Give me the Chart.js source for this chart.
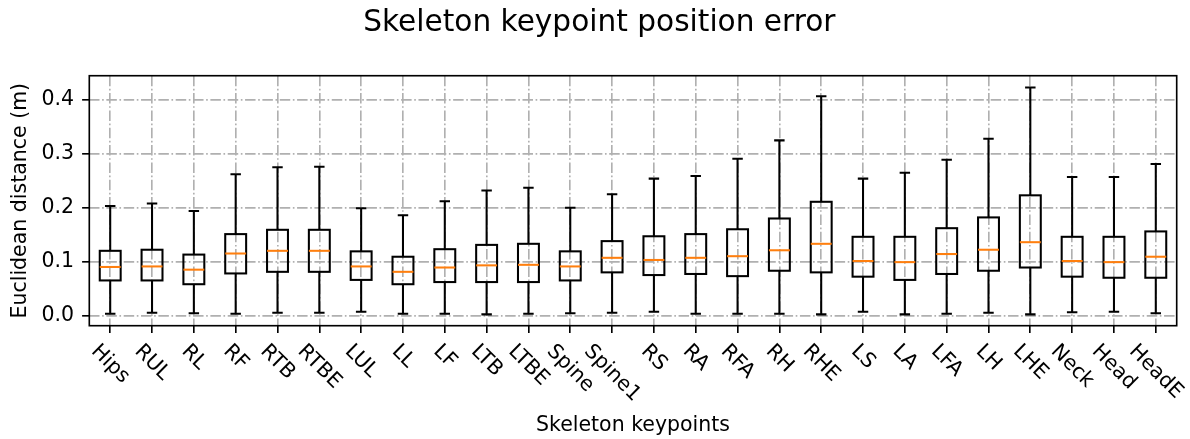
<!DOCTYPE html>
<html>
<head>
<meta charset="utf-8">
<title>Skeleton keypoint position error</title>
<script src="https://cdn.jsdelivr.net/npm/chart.js@4/dist/chart.umd.min.js"></script>
<style>
  html, body { margin: 0; padding: 0; background: #fff; }
  canvas { display: block; }
</style>
</head>
<body>
<canvas id="chart" width="1190" height="439"></canvas>
<script>
// Box-plot statistics per skeleton keypoint (metres)
const keypoints = ['Hips', 'RUL', 'RL', 'RF', 'RTB', 'RTBE', 'LUL', 'LL', 'LF', 'LTB', 'LTBE', 'Spine', 'Spine1',
  'RS', 'RA', 'RFA', 'RH', 'RHE', 'LS', 'LA', 'LFA', 'LH', 'LHE', 'Neck', 'Head', 'HeadE'];
const whiskerLow = [0.003, 0.005, 0.004, 0.003, 0.005, 0.005, 0.007, 0.003, 0.003, 0.002, 0.003, 0.004, 0.005,
  0.007, 0.003, 0.003, 0.003, 0.002, 0.007, 0.002, 0.003, 0.005, 0.002, 0.006, 0.007, 0.004];
const q1 = [0.065, 0.065, 0.058, 0.078, 0.081, 0.081, 0.066, 0.058, 0.062, 0.062, 0.062, 0.065, 0.080,
  0.075, 0.077, 0.073, 0.083, 0.080, 0.072, 0.066, 0.077, 0.083, 0.089, 0.072, 0.070, 0.070];
const median = [0.090, 0.091, 0.085, 0.115, 0.120, 0.120, 0.091, 0.081, 0.089, 0.093, 0.094, 0.091, 0.107,
  0.103, 0.107, 0.110, 0.121, 0.133, 0.101, 0.099, 0.114, 0.122, 0.136, 0.101, 0.099, 0.109];
const q3 = [0.120, 0.122, 0.113, 0.151, 0.159, 0.159, 0.119, 0.109, 0.123, 0.131, 0.133, 0.119, 0.138,
  0.147, 0.151, 0.160, 0.180, 0.211, 0.146, 0.146, 0.162, 0.182, 0.223, 0.146, 0.146, 0.156];
const whiskerHigh = [0.203, 0.208, 0.194, 0.262, 0.275, 0.276, 0.199, 0.186, 0.212, 0.232, 0.237, 0.200, 0.225,
  0.254, 0.259, 0.291, 0.325, 0.407, 0.254, 0.265, 0.289, 0.328, 0.423, 0.257, 0.257, 0.281];
const yTicks = [0.0, 0.1, 0.2, 0.3, 0.4];

const FONT = "'DejaVu Sans', 'Liberation Sans', sans-serif";
const LABEL_SIZE = 20.5;
const LINE_W = 2.05;
const MEDIAN_COLOR = '#ff7f0e';

Chart.defaults.font.family = FONT;
Chart.defaults.color = '#000';

// Box outlines, whiskers, caps and medians, stroked centred on the values
const boxWhiskers = {
  id: 'boxWhiskers',
  afterDatasetsDraw(chart) {
    const ctx = chart.ctx;
    const xs = chart.scales.x, ys = chart.scales.y;
    const meta = chart.getDatasetMeta(0);
    ctx.save();
    ctx.lineWidth = LINE_W;
    ctx.lineCap = 'butt';
    ctx.lineJoin = 'miter';
    keypoints.forEach((_, i) => {
      const bar = meta.data[i];
      const x = xs.getPixelForValue(i);
      const half = bar.width / 2;
      const capHalf = half / 2;
      const yLo = ys.getPixelForValue(whiskerLow[i]);
      const yQ1 = ys.getPixelForValue(q1[i]);
      const yQ3 = ys.getPixelForValue(q3[i]);
      const yHi = ys.getPixelForValue(whiskerHigh[i]);
      const yMed = ys.getPixelForValue(median[i]);
      ctx.strokeStyle = '#000';
      ctx.strokeRect(x - half, yQ3, 2 * half, yQ1 - yQ3);
      ctx.beginPath();
      ctx.moveTo(x, yQ1); ctx.lineTo(x, yLo);
      ctx.moveTo(x, yQ3); ctx.lineTo(x, yHi);
      ctx.moveTo(x - capHalf, yLo); ctx.lineTo(x + capHalf, yLo);
      ctx.moveTo(x - capHalf, yHi); ctx.lineTo(x + capHalf, yHi);
      ctx.stroke();
      ctx.strokeStyle = MEDIAN_COLOR;
      ctx.beginPath();
      ctx.moveTo(x - half, yMed); ctx.lineTo(x + half, yMed);
      ctx.stroke();
    });
    ctx.restore();
  },
  afterDraw(chart) {
    const ctx = chart.ctx;
    const a = chart.chartArea;
    const xs = chart.scales.x;
    ctx.save();
    // axes frame
    ctx.strokeStyle = '#000';
    ctx.lineWidth = 1.64;
    ctx.strokeRect(a.left, a.top, a.right - a.left, a.bottom - a.top);
    // x tick labels rotated 45 degrees clockwise, bounding box centred on the tick
    ctx.font = LABEL_SIZE + 'px ' + FONT;
    ctx.fillStyle = '#000';
    ctx.textAlign = 'left';
    ctx.textBaseline = 'alphabetic';
    const asc = 0.76 * LABEL_SIZE, desc = 0.24 * LABEL_SIZE;
    const top = a.bottom + 15.4;
    keypoints.forEach((label, i) => {
      const w = ctx.measureText(label).width;
      const boxH = Math.SQRT1_2 * (w + asc + desc);
      const cx = xs.getPixelForValue(i);
      const cy = top + boxH / 2;
      ctx.save();
      ctx.translate(cx, cy);
      ctx.rotate(Math.PI / 4);
      ctx.fillText(label, -w / 2, (asc - desc) / 2);
      ctx.restore();
    });
    ctx.restore();
  }
};

const gridDash = [10.5, 2.6, 1.64, 2.6];

new Chart(document.getElementById('chart'), {
  type: 'bar',
  data: {
    labels: keypoints,
    datasets: [{
      label: 'IQR',
      data: keypoints.map((_, i) => [q1[i], q3[i]]),
      backgroundColor: 'rgba(0,0,0,0)',
      borderColor: '#000',
      borderWidth: 0,
      borderSkipped: false,
      barPercentage: 0.5,
      categoryPercentage: 1.0
    }]
  },
  options: {
    responsive: false,
    devicePixelRatio: 1,
    animation: false,
    events: [],
    layout: { padding: { left: 22, right: 13.3, top: 0, bottom: 0 } },
    plugins: {
      legend: { display: false },
      tooltip: { enabled: false },
      title: {
        display: true,
        text: 'Skeleton keypoint position error',
        color: '#000',
        font: { family: FONT, size: 29.6, weight: 'normal', lineHeight: 1.2 },
        padding: { top: 5.6, bottom: 34.6 }
      }
    },
    scales: {
      x: {
        type: 'category',
        offset: true,
        grid: {
          offset: false,
          color: '#b0b0b0',
          lineWidth: 1.64,
          borderDash: gridDash,
          drawTicks: true,
          tickLength: 7.2,
          tickColor: '#000',
          tickWidth: 1.64
        },
        border: { display: false, dash: gridDash },
        ticks: { display: false },
        title: {
          display: true,
          text: 'Skeleton keypoints',
          color: '#000',
          font: { family: FONT, size: LABEL_SIZE, lineHeight: 1.2 },
          padding: { top: 0, bottom: 1.1 }
        },
        afterFit(scale) { scale.height = 113.3; }
      },
      y: {
        type: 'linear',
        min: -0.019,
        max: 0.445,
        afterBuildTicks(scale) { scale.ticks = yTicks.map(v => ({ value: v })); },
        grid: {
          color: '#b0b0b0',
          lineWidth: 1.64,
          borderDash: gridDash,
          drawTicks: true,
          tickLength: 7.2,
          tickColor: '#000',
          tickWidth: 1.64
        },
        border: { display: false, dash: gridDash },
        ticks: {
          color: '#000',
          padding: 8,
          font: { family: FONT, size: LABEL_SIZE },
          callback: (v) => Number(v).toFixed(1)
        },
        title: {
          display: true,
          text: 'Euclidean distance (m)',
          color: '#000',
          font: { family: FONT, size: LABEL_SIZE, lineHeight: 1.2 },
          padding: { top: -14.1, bottom: 0 }
        },
        afterFit(scale) { scale.width = 67.3; }
      }
    }
  },
  plugins: [boxWhiskers]
});
</script>
</body>
</html>
